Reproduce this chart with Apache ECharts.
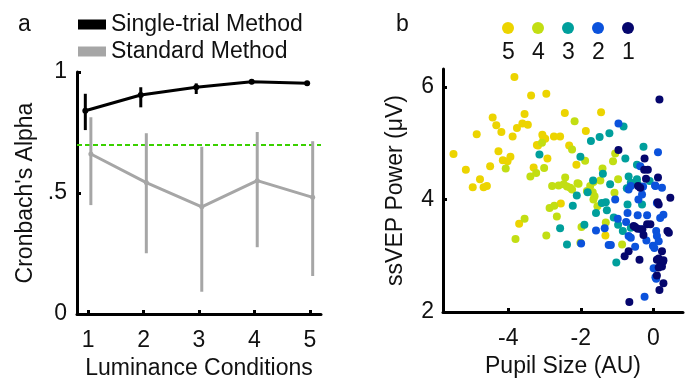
<!DOCTYPE html>
<html>
<head>
<meta charset="utf-8">
<script src="https://cdn.jsdelivr.net/npm/echarts@6/dist/echarts.min.js"></script>
<style>
  html, body { margin: 0; padding: 0; background: #fff; }
  #chart { width: 690px; height: 380px; }
</style>
</head>
<body>
<div id="chart"></div>
<script>
// panel a: reliability per luminance condition
const conditions = [1, 2, 3, 4, 5];
const singleMean = [0.84, 0.905, 0.937, 0.96, 0.953];
const singleLow = [0.76, 0.854, 0.909, 0.95, 0.943];
const singleHigh = [0.91, 0.937, 0.953, 0.97, 0.963];
const standardMean = [0.661, 0.543, 0.443, 0.551, 0.482];
const standardLow = [0.45, 0.251, 0.092, 0.276, 0.157];
const standardHigh = [0.813, 0.747, 0.691, 0.752, 0.714];
const threshold = 0.7;
const alphaTicks = [0, 0.5, 1];

// panel b: pupil size vs ssVEP power, by luminance condition
const lum5 = [[-3.83,6.18],[-3.37,5.85],[-2.95,5.88],[-2.44,5.54],[-4.43,5.46],[-3.55,5.52],[-4.33,5.32],[-3.61,5.35],[-3.46,5.33],[-3.76,5.27],[-4.87,5.16],[-4.19,5.2],[-3.88,5.12],[-3.06,5.15],[-2.98,5.08],[-2.74,5.12],[-2.57,5.12],[-5.51,4.81],[-4.27,4.86],[-3.18,4.96],[-4.15,4.7],[-4.02,4.68],[-3.94,4.76],[-5.17,4.53],[-4.5,4.59],[-2.92,4.73],[-3.3,4.57],[-4.78,4.36],[-4.98,4.22],[-4.68,4.22],[-4.59,4.24],[-2.32,4.96],[-1.44,5.55],[-1.86,5.22],[-2.12,4.62],[-3.21,4.97],[-3.03,5.1],[-3.7,3.57],[-2.55,3.93],[-1.32,3.36]];
const lum4 = [[-3.07,5.01],[-4.07,4.55],[-3.39,4.41],[-3.23,4.47],[-3.01,4.56],[-2.79,4.24],[-2.61,4.25],[-2.43,4.39],[-2.17,5.39],[-2.24,4.89],[-1.88,4.69],[-1.05,4.82],[-1.11,4.68],[-1.4,4.55],[-1.46,4.34],[-2.06,4.28],[-1.74,4.24],[-0.97,4.36],[-3.55,3.66],[-3.8,3.3],[-2.95,3.36],[-2.86,3.85],[-2.73,3.89],[-2.66,3.7],[-2.38,4.23],[-1.98,3.51],[-2.01,3.23],[-1.65,4.0],[-1.62,4.06],[-1.54,3.88],[-1.31,3.59],[-1.07,4.12],[-0.86,3.2],[-1.67,4.13],[-2.24,4.18],[-1.83,4.15],[-2.47,4.27],[-2.29,4.21],[-2.09,4.29],[-1.65,4.31]];
const lum3 = [[-3.14,4.8],[-0.82,5.3],[-1.21,5.18],[-1.48,5.11],[-1.72,5.04],[-2.01,4.76],[-0.27,4.94],[-0.77,4.73],[-1.39,4.46],[-0.45,4.62],[-0.68,4.41],[-1.66,4.34],[-1.19,4.27],[-0.45,4.36],[-0.43,4.27],[-0.1,4.33],[-2.57,3.49],[-2.38,3.2],[-2.22,3.89],[-2.11,4.07],[-1.9,3.55],[-1.58,3.76],[-1.28,3.81],[-1.31,3.95],[-1.02,2.88],[-0.97,3.55],[-0.84,3.44],[-0.71,3.91],[-0.62,3.5],[-0.31,3.91],[-0.73,4.2],[-1.81,4.13],[-1.42,3.94],[-1.09,3.68],[-0.62,4.3]];
const lum2 = [[-0.96,5.35],[0.13,4.84],[-0.36,4.59],[-0.62,4.24],[-0.31,4.22],[0.06,4.24],[0.24,4.21],[-1.99,3.22],[-1.58,3.45],[-1.23,3.19],[-1.17,3.19],[-1.05,4.0],[-0.98,3.66],[-0.75,3.6],[-0.71,3.76],[-0.68,3.35],[-0.62,3.32],[-0.5,3.16],[-0.43,3.72],[-0.41,4.0],[-0.34,3.47],[-0.17,3.72],[-0.19,3.27],[-0.01,3.18],[0.03,3.14],[0.01,2.78],[0.06,2.62],[0.08,2.59],[0.08,3.44],[0.1,3.35],[0.15,3.26],[0.28,3.73],[0.19,3.67],[-0.24,2.27],[0.1,3.94],[-1.34,3.49],[-0.68,4.18],[-0.31,4.09],[0.05,4.25],[-0.28,4.23]];
const lum1 = [[0.17,5.78],[-0.96,4.88],[-0.24,4.73],[-0.25,4.53],[-0.15,4.53],[-0.2,4.37],[0.13,4.39],[-0.42,4.24],[-0.36,4.21],[-0.68,3.08],[-0.79,2.99],[-0.38,2.93],[-0.66,2.18],[-0.54,3.53],[-0.17,3.56],[-0.08,3.56],[-0.27,3.37],[0.39,3.44],[0.43,3.41],[0.24,3.08],[0.1,2.93],[0.19,2.9],[0.27,2.9],[0.24,2.81],[0.28,2.51],[0.17,2.39],[0.47,4.03],[0.15,3.91],[0.12,3.95],[-0.5,3.51],[-0.43,3.48],[-0.3,3.47],[0.15,2.95],[0.28,2.92],[0.15,2.79],[0.1,2.65]];
const pupilTicks = [-4, -2, 0];
const powerTicks = [2, 4, 6];

const lumNames = ["5", "4", "3", "2", "1"];
const lumData = [lum5, lum4, lum3, lum2, lum1];
const lumColors = ["#ecd400", "#c2de13", "#009f9c", "#0b52dc", "#05066d"];

const FONT = "'Liberation Sans', Arial, sans-serif";
const text = { fontFamily: FONT, fontSize: 23, color: "#111" };

// colour key of panel b: circles from the legend, numbers underneath
const keyLeft = 502;
const keyStep = 30;

const chart = echarts.init(document.getElementById("chart"), null, { renderer: "canvas" });

function errorBar(color) {
  return (params, api) => {
    const x = api.value(0);
    const lo = api.coord([x, api.value(1)]);
    const hi = api.coord([x, api.value(2)]);
    return {
      type: "line",
      shape: { x1: lo[0], y1: lo[1], x2: hi[0], y2: hi[1] },
      style: { stroke: color, lineWidth: 3 },
    };
  };
}

const axisLine = { onZero: false, lineStyle: { color: "#000", width: 3 } };
const tick = { inside: true, length: 4, lineStyle: { color: "#000", width: 3 } };

chart.setOption({
  animation: false,
  backgroundColor: "#fff",
  title: [
    { text: "a", left: 18, top: 13, padding: 0, textStyle: { ...text, fontWeight: "normal" } },
    { text: "b", left: 396, top: 13, padding: 0, textStyle: { ...text, fontWeight: "normal" } },
  ],
  legend: [
    {
      data: ["Single-trial Method", "Standard Method"],
      orient: "vertical",
      left: 78,
      top: 13,
      padding: 0,
      itemGap: 4,
      itemWidth: 28,
      itemHeight: 10,
      icon: "rect",
      textStyle: { ...text },
    },
    {
      data: lumNames,
      orient: "horizontal",
      left: keyLeft,
      top: 22,
      padding: 0,
      itemGap: keyStep - 12,
      itemWidth: 12,
      itemHeight: 12,
      icon: "circle",
      formatter: () => "",
      textStyle: { ...text, fontSize: 1 },
    },
  ],
  graphic: lumNames.map((name, i) => ({
    type: "text",
    left: keyLeft + i * keyStep,
    top: 41,
    style: { text: name, font: `23px ${FONT}`, fill: "#111" },
  })),
  grid: [
    { left: 77, top: 72, width: 244, height: 242, outerBoundsMode: "none" },
    { left: 443, top: 69, width: 240, height: 243, outerBoundsMode: "none" },
  ],
  xAxis: [
    {
      gridIndex: 0,
      type: "value",
      min: 0.8,
      max: 5.2,
      name: "Luminance Conditions",
      nameLocation: "middle",
      nameGap: 42,
      nameTextStyle: text,
      axisLine,
      axisTick: { ...tick, customValues: conditions },
      axisLabel: { ...text, margin: 15, customValues: conditions },
      splitLine: { show: false },
    },
    {
      gridIndex: 1,
      type: "value",
      min: -5.8,
      max: 0.82,
      name: "Pupil Size (AU)",
      nameLocation: "middle",
      nameGap: 42,
      nameTextStyle: text,
      axisLine,
      axisTick: { ...tick, customValues: pupilTicks },
      axisLabel: { ...text, margin: 15, customValues: pupilTicks },
      splitLine: { show: false },
    },
  ],
  yAxis: [
    {
      gridIndex: 0,
      type: "value",
      min: 0,
      max: 1,
      name: "Cronbach's Alpha",
      nameLocation: "middle",
      nameGap: 40,
      nameTextStyle: text,
      axisLine,
      axisTick: { ...tick, customValues: alphaTicks },
      axisLabel: {
        ...text,
        margin: 10,
        customValues: alphaTicks,
        formatter: (v) => (v === 0.5 ? ".5" : String(v)),
      },
      splitLine: { show: false },
    },
    {
      gridIndex: 1,
      type: "value",
      min: 2,
      max: 6.32,
      name: "ssVEP Power (μV)",
      nameLocation: "middle",
      nameGap: 36,
      nameTextStyle: text,
      axisLine,
      axisTick: { ...tick, customValues: powerTicks },
      axisLabel: { ...text, margin: 9, customValues: powerTicks },
      splitLine: { show: false },
    },
  ],
  series: [
    {
      name: "Standard Method",
      type: "line",
      xAxisIndex: 0,
      yAxisIndex: 0,
      data: conditions.map((c, i) => [c + 0.05, standardMean[i]]),
      symbol: "circle",
      symbolSize: 5,
      itemStyle: { color: "#a6a6a6" },
      lineStyle: { color: "#a6a6a6", width: 3 },
      z: 2,
    },
    {
      name: "Standard Method",
      type: "custom",
      xAxisIndex: 0,
      yAxisIndex: 0,
      renderItem: errorBar("#a6a6a6"),
      encode: { x: 0, y: [1, 2] },
      data: conditions.map((c, i) => [c + 0.05, standardLow[i], standardHigh[i]]),
      z: 2,
    },
    {
      name: "Single-trial Method",
      type: "line",
      xAxisIndex: 0,
      yAxisIndex: 0,
      data: conditions.map((c, i) => [c - 0.05, singleMean[i]]),
      symbol: "circle",
      symbolSize: 6,
      itemStyle: { color: "#000" },
      lineStyle: { color: "#000", width: 3 },
      z: 4,
      markLine: {
        silent: true,
        symbol: "none",
        label: { show: false },
        lineStyle: { color: "#3ad100", width: 2, type: [5, 3] },
        data: [{ yAxis: threshold }],
        z: 1,
      },
    },
    {
      name: "Single-trial Method",
      type: "custom",
      xAxisIndex: 0,
      yAxisIndex: 0,
      renderItem: errorBar("#000"),
      encode: { x: 0, y: [1, 2] },
      data: conditions.map((c, i) => [c - 0.05, singleLow[i], singleHigh[i]]),
      z: 4,
    },
    ...lumNames.map((name, i) => ({
      name,
      type: "scatter",
      xAxisIndex: 1,
      yAxisIndex: 1,
      data: lumData[i],
      symbolSize: 8,
      itemStyle: { color: lumColors[i], opacity: 1 },
    })),
  ],
});
</script>
</body>
</html>
